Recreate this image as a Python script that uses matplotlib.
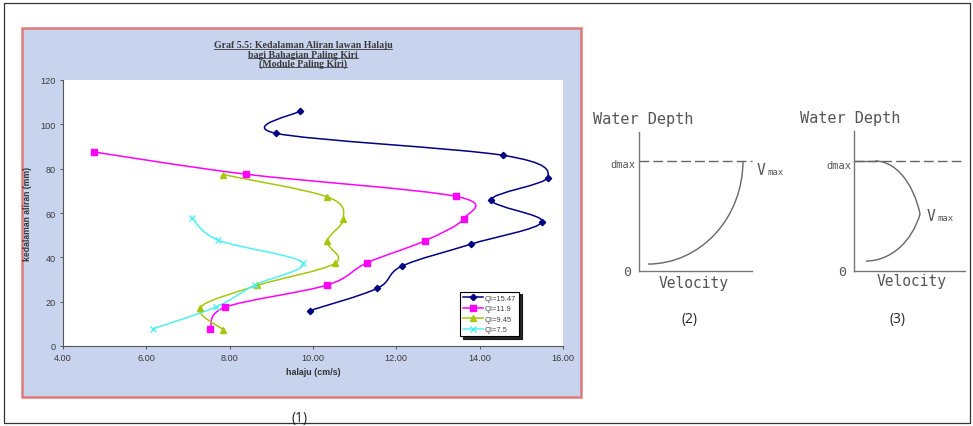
import math
import matplotlib
matplotlib.use('Agg')
import matplotlib.pyplot as plt
from matplotlib.path import Path
from matplotlib.patches import PathPatch, Rectangle, Arc
from matplotlib.lines import Line2D

W, H = 973, 427

# chart (1): flow depth (mm) against velocity (cm/s), one profile per discharge
depth_1547 = [16, 26, 36, 46, 56, 66, 76, 86, 96, 106]
vel_1547 = [9.93, 11.54, 12.13, 13.80, 15.50, 14.28, 15.63, 14.57, 9.10, 9.69]
depth_119 = [7.5, 17.5, 27.5, 37.5, 47.5, 57.5, 67.5, 77.5, 87.5]
vel_119 = [7.54, 7.89, 10.34, 11.29, 12.69, 13.62, 13.43, 8.39, 4.75]
depth_945 = [7.3, 17.3, 27.3, 37.3, 47.3, 57.3, 67.3, 77.3]
vel_945 = [7.85, 7.29, 8.66, 10.53, 10.34, 10.73, 10.34, 7.85]
depth_75 = [7.7, 17.6, 27.5, 37.6, 47.7, 57.8]
vel_75 = [6.15, 7.67, 8.60, 9.75, 7.73, 7.09]

series_labels = ['QI=15.47', 'QI=11.9', 'QI=9.45', 'QI=7.5']
series_colors = ['#000080', '#ff00ff', '#a6c60c', '#4ff0f4']
series_markers = ['D', 's', '^', 'x']
xticks = [4, 6, 8, 10, 12, 14, 16]
yticks = [0, 20, 40, 60, 80, 100, 120]

title_lines = ['Graf 5.5: Kedalaman Aliran lawan Halaju',
               'bagi Bahagian Paling Kiri',
               '(Module Paling Kiri)']

# schematic profiles (2) and (3), normalised velocity / depth
d_max2 = 0.79
v_start2, d_start2 = 0.08, 0.05
v_top2 = 0.92
d_max3 = 0.786
v_top3 = 0.19
v_peak3, d_peak3 = 0.595, 0.407
v_end3, d_end3 = 0.108, 0.071


def fx(px):
    return px / W


def fy(py):
    return 1 - py / H


def smooth_path(xs, ys):
    # excel style smoothed line through the points (bezier segments)
    pts = list(zip(xs, ys))
    n = len(pts)
    verts = [pts[0]]
    codes = [Path.MOVETO]
    for i in range(n - 1):
        p0 = pts[i - 1] if i > 0 else pts[i]
        p1 = pts[i]
        p2 = pts[i + 1]
        p3 = pts[i + 2] if i + 2 < n else pts[i + 1]
        c1 = (p1[0] + (p2[0] - p0[0]) / 6, p1[1] + (p2[1] - p0[1]) / 6)
        c2 = (p2[0] - (p3[0] - p1[0]) / 6, p2[1] - (p3[1] - p1[1]) / 6)
        verts += [c1, c2, p2]
        codes += [Path.CURVE4] * 3
    return Path(verts, codes)


fig = plt.figure(figsize=(W / 100, H / 100), dpi=100)

# outer frame
fig.add_artist(Rectangle((fx(4), fy(424)), (970 - 4) / W, (424 - 4) / H,
                         transform=fig.transFigure, fill=False,
                         edgecolor='#333333', lw=0.9, zorder=0))
# chart (1) background
fig.add_artist(Rectangle((fx(22), fy(398)), (581 - 22) / W, (398 - 29) / H,
                         transform=fig.transFigure, facecolor='#c8d3ee',
                         edgecolor='#e07a7a', lw=1.8, zorder=0))

ax = fig.add_axes([fx(63), fy(347), 500 / W, 266 / H])
ax.set_facecolor('white')
ax.set_xlim(4, 16)
ax.set_ylim(0, 120)
for s in ['top', 'right']:
    ax.spines[s].set_visible(False)
for s in ['left', 'bottom']:
    ax.spines[s].set_color('#555555')
    ax.spines[s].set_linewidth(0.8)
ax.set_xticks(xticks)
ax.set_xticklabels([f'{v:.2f}' for v in xticks])
ax.set_yticks(yticks)
ax.tick_params(length=2.5, width=0.7, color='#555555', labelsize=6.6,
               labelcolor='#3a3a3a', pad=2.5)
for lab in ax.get_xticklabels() + ax.get_yticklabels():
    lab.set_family('Liberation Sans')

all_x = [vel_1547, vel_119, vel_945, vel_75]
all_y = [depth_1547, depth_119, depth_945, depth_75]
handles = []
for xs, ys, c, m, lab in zip(all_x, all_y, series_colors, series_markers, series_labels):
    ax.add_patch(PathPatch(smooth_path(xs, ys), fill=False, edgecolor=c, lw=1.1))
    ms = 3.2 if m == 'D' else 4
    ax.plot(xs, ys, ls='none', marker=m, color=c, ms=ms, mew=1.0)
    handles.append(Line2D([], [], color=c, marker=m, ms=ms, lw=1.1, label=lab))

leg = ax.legend(handles=handles, loc='lower left', bbox_to_anchor=(0.794, 0.036),
                fontsize=5.4, frameon=True, fancybox=False, handlelength=2.6,
                labelspacing=0.42, borderpad=0.42, handletextpad=0.3,
                shadow={'color': 'black', 'alpha': 0.85}, borderaxespad=0)
leg.get_frame().set_edgecolor('black')
leg.get_frame().set_linewidth(0.8)
for t in leg.get_texts():
    t.set_color('#444444')
    t.set_family('Liberation Sans')

ax.set_xlabel('halaju (cm/s)', fontsize=6.4, fontweight='bold', color='#333333',
              family='Liberation Sans', labelpad=4)
ax.set_ylabel('kedalaman aliran (mm)', fontsize=6.2, fontweight='bold', color='#333333',
              family='Liberation Sans', labelpad=6)

title_texts = []
for i, line in enumerate(title_lines):
    t = fig.text(fx(303), fy(46 + 9 * i), line, ha='center', va='center',
                 fontsize=7.1, fontweight='bold', family='Liberation Serif',
                 color='#3a3a3a')
    title_texts.append(t)


def schematic_axes(left, width, height):
    a = fig.add_axes([fx(left), fy(272), width / W, height / H])
    a.set_xlim(0, 1)
    a.set_ylim(0, 1)
    a.set_facecolor('none')
    a.set_xticks([])
    a.set_yticks([])
    for s in ['top', 'right']:
        a.spines[s].set_visible(False)
    for s in ['left', 'bottom']:
        a.spines[s].set_color('#777777')
        a.spines[s].set_linewidth(1.0)
    return a


mono = 'DejaVu Sans Mono'
gray = '#666666'
txt = '#555555'

# (2) velocity profile with maximum at the surface
ax2 = schematic_axes(639, 113, 139)
ax2.plot([0, 1], [d_max2, d_max2], color=gray, lw=1.0, dashes=(7, 3), clip_on=False)
ax2.add_patch(Arc((v_start2, d_max2), 2 * (v_top2 - v_start2), 2 * (d_max2 - d_start2),
                  theta1=270, theta2=360, color=gray, lw=1.0, clip_on=False))
ax2.text(-0.41, 1.10, 'Water Depth', transform=ax2.transAxes, ha='left', va='center',
         fontsize=11, family=mono, color=txt)
ax2.text(-0.035, d_max2 - 0.02, 'dmax', ha='right', va='center', fontsize=7.5,
         family=mono, color=txt)
ax2.text(-0.07, 0.0, '0', ha='right', va='center', fontsize=9.5, family=mono, color=txt)
ax2.text(0.48, -0.08, 'Velocity', ha='center', va='center', fontsize=10.5,
         family=mono, color=txt)
ax2.text(1.04, d_max2 - 0.09, 'V', ha='left', va='baseline', fontsize=10.5,
         family=mono, color=txt)
ax2.annotate('max', xy=(1.04, d_max2 - 0.09), xytext=(8, 0), textcoords='offset points',
             ha='left', va='baseline', fontsize=6.5, family=mono, color=txt,
             annotation_clip=False)

# (3) velocity profile with maximum below the surface
ax3 = schematic_axes(854, 111, 140)
ax3.plot([0, 1], [d_max3, d_max3], color=gray, lw=1.0, dashes=(7, 3), clip_on=False)
ax3.plot([0, v_top3], [d_max3, d_max3], color=gray, lw=1.0, clip_on=False)
t_up = math.radians(20)
b_up = (d_max3 - d_peak3) / (1 - math.sin(t_up))
a_up = (v_peak3 - v_top3) / math.cos(t_up)
c_up = (v_top3, d_max3 - b_up)
th_up = math.degrees(math.atan2(d_peak3 - c_up[1], v_peak3 - c_up[0]))
ax3.add_patch(Arc(c_up, 2 * a_up, 2 * b_up, theta1=th_up, theta2=90,
                  color=gray, lw=1.0, clip_on=False))
b_lo = (d_peak3 - d_end3) / (1 - math.sin(t_up))
a_lo = (v_peak3 - v_end3) / math.cos(t_up)
c_lo = (v_end3, d_end3 + b_lo)
th_lo = math.degrees(math.atan2(d_peak3 - c_lo[1], v_peak3 - c_lo[0])) % 360
ax3.add_patch(Arc(c_lo, 2 * a_lo, 2 * b_lo, theta1=270, theta2=th_lo,
                  color=gray, lw=1.0, clip_on=False))
ax3.text(-0.49, 1.093, 'Water Depth', transform=ax3.transAxes, ha='left', va='center',
         fontsize=11, family=mono, color=txt)
ax3.text(-0.02, d_max3 - 0.03, 'dmax', ha='right', va='center', fontsize=7.5,
         family=mono, color=txt)
ax3.text(-0.07, 0.0, '0', ha='right', va='center', fontsize=9.5, family=mono, color=txt)
ax3.text(0.52, -0.065, 'Velocity', ha='center', va='center', fontsize=10.5,
         family=mono, color=txt)
ax3.text(v_peak3 + 0.06, d_peak3 - 0.04, 'V', ha='left', va='baseline', fontsize=10.5,
         family=mono, color=txt)
ax3.annotate('max', xy=(v_peak3 + 0.06, d_peak3 - 0.04), xytext=(8, 0),
             textcoords='offset points', ha='left', va='baseline', fontsize=6.5,
             family=mono, color=txt, annotation_clip=False)

# panel numbers
for num, px, py in [('(1)', 300, 419), ('(2)', 690, 320), ('(3)', 897, 320)]:
    fig.text(fx(px), fy(py), num, ha='center', va='center', fontsize=10,
             family='Open Sans', color='#222222')

# underline the title lines
fig.canvas.draw()
renderer = fig.canvas.get_renderer()
for t in title_texts:
    bb = t.get_window_extent(renderer)
    y = (bb.y0 + 0.5) / fig.bbox.height
    fig.add_artist(Line2D([bb.x0 / fig.bbox.width, bb.x1 / fig.bbox.width], [y, y],
                          transform=fig.transFigure, color='#3a3a3a', lw=0.6))

fig.savefig('out.png', dpi=100)
